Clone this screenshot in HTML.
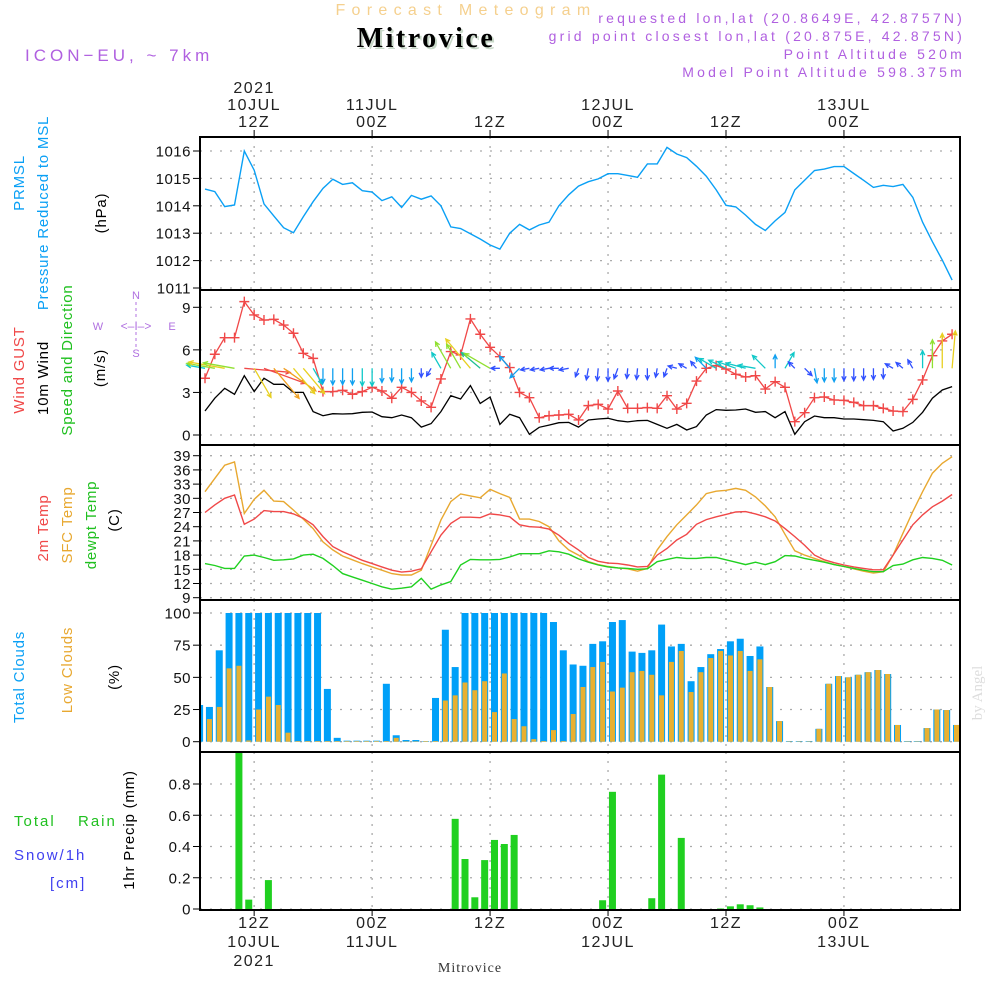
<!DOCTYPE html>
<html><head><meta charset="utf-8"><title>Meteogram Mitrovice</title>
<style>
html,body{margin:0;padding:0;background:#fff;}
svg{display:block;font-family:"Liberation Sans",sans-serif;}
</style></head>
<body>
<svg id="chart" width="1000" height="1000" viewBox="0 0 1000 1000" xmlns="http://www.w3.org/2000/svg">
<rect x="0" y="0" width="1000" height="1000" fill="#fff"/>
<text x="466" y="15" text-anchor="middle" font-size="16" fill="#f5d08e" letter-spacing="6.3">Forecast Meteogram</text>
<text x="428" y="49" text-anchor="middle" font-size="28" font-weight="bold" font-family="Liberation Serif, serif" fill="#c8d8c8" letter-spacing="2.5">Mitrovice</text>
<text x="426" y="47" text-anchor="middle" font-size="28" font-weight="bold" font-family="Liberation Serif, serif" fill="#000" letter-spacing="2.5">Mitrovice</text>
<text x="25" y="61" font-size="17" fill="#b060e0" letter-spacing="4">ICON−EU, ~ 7km</text>
<g font-size="14" fill="#b060e0" text-anchor="end" letter-spacing="3.2">
<text x="965" y="23">requested lon,lat (20.8649E, 42.8757N)</text>
<text x="965" y="41">grid point closest lon,lat (20.875E, 42.875N)</text>
<text x="965" y="59">Point Altitude 520m</text>
<text x="965" y="77">Model Point Altitude 598.375m</text>
</g>
<g id="plot"></g>
</svg>
<script>
// ---- data (hourly, starting 10JUL 07Z) ----
const pressure = [1014.61,1014.52,1013.97,1014.03,1016.0,1015.3,1014.07,1013.63,1013.2,1013.02,1013.6,1014.15,1014.64,1014.97,1014.78,1014.84,1014.55,1014.5,1014.19,1014.33,1013.94,1014.38,1014.24,1014.36,1014.0,1013.23,1013.17,1012.98,1012.79,1012.57,1012.42,1013.0,1013.32,1013.12,1013.3,1013.4,1014.0,1014.4,1014.72,1014.88,1014.98,1015.17,1015.17,1015.11,1015.04,1015.53,1015.53,1016.13,1015.89,1015.76,1015.44,1015.08,1014.58,1014.02,1013.96,1013.66,1013.32,1013.1,1013.45,1013.76,1014.58,1014.93,1015.29,1015.34,1015.43,1015.43,1015.18,1014.93,1014.67,1014.75,1014.7,1014.78,1014.31,1013.4,1012.69,1012.02,1011.29];
const gust = [4.0,5.69,6.86,6.86,9.4,8.46,8.1,8.15,7.75,7.17,5.76,5.4,3.06,3.06,3.15,2.87,3.06,3.36,3.1,2.59,3.36,3.0,2.4,1.95,3.95,5.88,5.64,8.18,7.1,6.18,5.52,4.75,3.0,2.63,1.22,1.36,1.41,1.46,1.06,2.07,2.16,1.83,3.1,1.88,1.88,1.93,1.88,2.77,1.83,2.23,3.8,4.7,4.89,4.65,4.28,4.09,4.18,3.24,3.76,3.36,0.94,1.57,2.63,2.68,2.47,2.44,2.3,2.07,2.07,1.88,1.69,1.65,2.51,3.88,5.59,6.63,7.1];
const wind10m = [1.69,2.59,3.29,2.87,4.18,3.06,4.0,3.57,3.57,3.0,3.0,1.65,1.36,1.5,1.48,1.5,1.6,1.62,1.29,1.22,1.41,1.22,0.56,0.8,1.65,2.77,2.54,3.48,2.23,2.68,0.75,1.46,1.22,0.05,0.54,0.7,0.87,0.89,0.56,1.06,1.13,1.18,1.01,0.92,1.01,1.03,0.75,0.47,0.75,0.35,0.59,1.41,1.79,1.74,1.76,1.83,1.6,1.65,1.22,1.65,0.05,0.94,1.34,1.22,1.22,1.13,1.13,1.08,1.03,0.94,0.28,0.47,0.89,1.6,2.59,3.17,3.41];
const windDir = [280,280,280,280,95,150,110,140,125,140,140,150,180,180,180,180,180,180,180,180,180,180,180,210,330,330,330,320,310,300,270,320,225,260,260,260,270,260,200,190,185,180,200,185,185,180,190,200,285,300,320,315,300,295,290,285,280,315,0,30,315,135,170,180,180,180,180,180,180,180,300,310,330,0,0,0,5];
const temp2m = [27.0,28.6,30.0,30.7,24.5,25.6,27.4,27.2,27.2,26.7,25.8,24.4,21.9,19.8,18.7,17.8,16.9,16.2,15.5,14.8,14.4,14.6,15.1,18.7,22.2,24.7,26.0,26.0,25.9,26.7,26.5,26.1,24.4,24.0,23.9,23.5,22.2,20.5,19.1,17.5,16.7,16.3,16.2,15.9,15.5,15.6,18.0,19.4,21.2,22.4,24.5,25.5,26.1,26.6,27.1,27.2,26.7,26.1,25.2,23.6,21.9,20.1,18.0,17.0,16.4,15.9,15.5,15.2,14.9,14.9,18.0,21.2,24.4,26.5,28.2,29.4,30.8];
const tempSfc = [31.4,34.2,37.0,37.7,26.8,29.8,31.7,29.4,29.3,27.5,25.6,23.6,20.8,19.1,17.8,17.0,16.2,15.5,14.8,14.1,13.8,13.8,14.8,20.1,25.4,29.3,30.9,30.5,30.1,31.9,31.0,30.2,25.6,25.6,25.1,24.0,21.0,19.1,18.0,16.6,16.0,15.6,15.3,15.1,14.6,15.2,19.1,21.9,24.4,26.5,28.6,31.0,31.5,31.7,32.1,31.7,30.3,28.4,26.1,22.4,18.9,18.0,17.3,16.6,16.0,15.6,15.1,14.6,14.2,14.5,18.0,22.6,27.2,31.4,35.3,37.4,38.8];
const dewpt = [16.2,15.8,15.2,15.2,17.8,18.0,17.5,16.9,17.0,17.2,18.0,18.2,17.3,15.8,14.1,13.4,12.7,12.0,11.3,10.8,11.0,11.3,13.1,10.8,11.7,12.4,15.9,17.1,17.0,17.0,17.1,17.6,18.3,18.3,18.3,18.9,18.7,18.2,17.2,16.5,15.9,15.5,15.3,15.2,15.0,15.1,16.6,17.1,17.5,17.3,17.3,17.5,17.5,17.0,16.5,16.0,16.5,16.0,16.6,17.9,17.8,17.3,16.9,16.5,16.0,15.6,15.2,14.8,14.5,14.5,15.8,16.1,17.0,17.5,17.3,16.9,15.9];
const totalCloud = [28.5,27,71,100,100,100,100,100,100,100,100,100,100,41,3,0.8,0.8,0.8,0.8,45,5,1.3,1.3,0.5,34,87,58,100,100,100,100,100,100,100,100,100,93,71,60,59,76,78,93,94.5,70,69,71,91,74,76,47,58,68,72,78,80,66.6,74,42.5,16,0.5,0.5,0.5,10,45,51,50,52,54,55.7,52.6,13,0.5,0.5,10.6,25,24.6,13];
const lowCloud = [0,17.6,27,57,59,1,25,35,28.5,7,0.5,0.5,0.5,0.5,0.5,0.5,0.5,0.5,0.5,0.5,3,0.3,0.3,0.5,0.5,32,36,46,40,47,23,53,17.6,12,2,0.5,9,0.5,21.5,42.5,58,62,39,42,54,55,52,36,62,70.5,38.6,54,65,70.5,67,70.5,55,64,42.5,16,0.3,0.3,0.3,10,45,51,50,52,54,55.7,52.6,13,0.3,0.3,10.6,25,24.6,13];
const precip = [0,0,0,0,1.0,0.06,0,0.185,0,0,0,0,0,0,0,0,0,0,0,0,0,0,0,0,0,0,0.577,0.32,0.075,0.313,0.442,0.416,0.474,0,0,0,0,0,0,0,0,0.056,0.75,0,0,0,0.069,0.86,0,0.455,0,0,0,0.003,0.017,0.03,0.024,0.01,0,0,0,0,0,0,0,0,0,0,0,0,0,0,0,0,0,0,0,0];
const pressureTicks = [1011,1012,1013,1014,1015,1016];
const windTicks = [0,3,6,9];
const tempTicks = [9,12,15,18,21,24,27,30,33,36,39];
const cloudTicks = [0,25,50,75,100];
const precipTicks = [0,0.2,0.4,0.6,0.8];
const timeTickHours = [5,17,29,41,53,65];
const timeTopLabels = [["2021","10JUL","12Z"],["11JUL","00Z"],["12Z"],["12JUL","00Z"],["12Z"],["13JUL","00Z"]];
const timeBottomLabels = [["12Z","10JUL","2021"],["00Z","11JUL"],["12Z"],["00Z","12JUL"],["12Z"],["00Z","13JUL"]];

// ---- scales ----
const X0=200, X1=960;
function xs(i){return 205+9.83*i;}
function yP(v){return 151+(1016-v)*27.4;}
function yW(v){return 435-v*14.19;}
function yT(v){return 597.7-(v-9)*4.733;}
function yC(v){return 741.7-v*1.287;}
function yR(v){return 909-v*156.25;}
const NS="http://www.w3.org/2000/svg";
const plot=document.getElementById('plot');
function mk(tag,attrs,parent){const e=document.createElementNS(NS,tag);for(const k in attrs)e.setAttribute(k,attrs[k]);(parent||plot).appendChild(e);return e;}
function txt(s,attrs,parent){const e=mk('text',attrs,parent);e.textContent=s;return e;}

const panels=[{top:137,bot:290,y:yP,ticks:pressureTicks,name:'pressure'},{top:290,bot:445,y:yW,ticks:windTicks,name:'wind'},{top:445,bot:600,y:yT,ticks:tempTicks,name:'temperature'},{top:600,bot:752,y:yC,ticks:cloudTicks,name:'clouds'},{top:752,bot:910,y:yR,ticks:precipTicks,name:'precip'}];

panels.forEach(p=>{
  const g=mk('g',{});
  
  
  p.ticks.forEach(t=>{
    const yy=p.y(t);
    const l=mk('line',{x1:X0,x2:X1,y1:yy,y2:yy,stroke:'#aaa','stroke-width':1.3,'stroke-dasharray':'2,8'},g);
    
    
    const tk=mk('line',{x1:193,x2:200,y1:yy,y2:yy,stroke:'#000','stroke-width':1},g);
    
    
    const lab=txt(String(t),{x:191,y:yy+5.5,'text-anchor':'end','font-size':15,fill:'#111','letter-spacing':0.5},g);
    
    
  });
  timeTickHours.forEach(h=>{
    const xx=xs(h);
    const l=mk('line',{x1:xx,x2:xx,y1:p.top,y2:p.bot,stroke:'#aaa','stroke-width':1.3,'stroke-dasharray':'2,7'},g);
    
    
  });
});

timeTickHours.forEach((h,k)=>{
  const xx=xs(h);
  const top=timeTopLabels[k];
  top.forEach((s,j)=>{
    const t=txt(s,{x:xx,y:127-(top.length-1-j)*17,'text-anchor':'middle','font-size':16,fill:'#222','letter-spacing':1.5});
    
    
  });
  timeBottomLabels[k].forEach((s,j)=>{
    const t=txt(s,{x:xx,y:928+j*19,'text-anchor':'middle','font-size':16,fill:'#222','letter-spacing':1.5});
    
    
  });
  const tk=mk('line',{x1:xx,x2:xx,y1:130,y2:137,stroke:'#000'});
  
  
  const tb=mk('line',{x1:xx,x2:xx,y1:910,y2:916,stroke:'#000'});
  
  
});

function pathOf(arr,yf){return arr.map((v,i)=>(i?'L':'M')+xs(i).toFixed(1)+','+yf(v).toFixed(1)).join('');}

const pl=mk('path',{d:pathOf(pressure,yP),fill:'none',stroke:'#0aa0f5','stroke-width':1.4});



const wl=mk('path',{d:pathOf(wind10m,yW),fill:'none',stroke:'#000','stroke-width':1.3});


const gl=mk('path',{d:pathOf(gust,yW),fill:'none',stroke:'#f04848','stroke-width':1.3});


gust.forEach((v,i)=>{
  const x=xs(i),y=yW(v);
  const m=mk('path',{d:`M${x-5},${y}L${x+5},${y}M${x},${y-5}L${x},${y+5}`,stroke:'#f04848','stroke-width':1.4});
  
  
});
function windColor(s){
  if(s<0.8)return '#8a2be2';if(s<1.2)return '#3050ff';if(s<1.6)return '#10a0f0';if(s<2.0)return '#10c8c8';
  if(s<2.5)return '#20c090';if(s<3.0)return '#90e030';if(s<3.5)return '#e8d020';if(s<4.0)return '#f0a020';return '#f04848';}
windDir.forEach((d,i)=>{
  const s=Math.max(wind10m[i],0.8);
  const len=Math.min(Math.max(s*11,9),48);
  const a=d*Math.PI/180;
  const x0=xs(i),y0=yW(4.7);
  const x1=x0+len*Math.sin(a),y1=y0-len*Math.cos(a);
  const h=5,b1=a+Math.PI-0.45,b2=a+Math.PI+0.45;
  const dd=`M${x0},${y0}L${x1},${y1}M${x1+h*Math.sin(b1)},${y1-h*Math.cos(b1)}L${x1},${y1}L${x1+h*Math.sin(b2)},${y1-h*Math.cos(b2)}`;
  const ar=mk('path',{d:dd,fill:'none',stroke:windColor(s),'stroke-width':1.3});
  
  
});

[[tempSfc,'#e8a830','sfc-temp-line'],[temp2m,'#f04848','temp-2m-line'],[dewpt,'#20d020','dewpoint-line']].forEach(([arr,c,n])=>{
  const l=mk('path',{d:pathOf(arr,yT),fill:'none',stroke:c,'stroke-width':1.4});
  
  
});

function bx(j){return xs(j-0.55);}
totalCloud.forEach((v,j)=>{
  const x=bx(j);
  const b=mk('rect',{x:Math.max(x-3.5,X0),y:yC(v),width:7-(Math.max(x-3.5,X0)-(x-3.5)),height:yC(0)-yC(v),fill:'#00a0f8'});
  
  
});
lowCloud.forEach((v,j)=>{
  const x=bx(j);
  if(x-2.5<X0)return;
  const b=mk('rect',{x:x-2.5,y:yC(v),width:5,height:yC(0)-yC(v),fill:'#e8b030'});
  
  
});

precip.forEach((v,j)=>{
  if(v<=0)return;
  const x=bx(j);
  const top=Math.max(yR(v),753);
  const b=mk('rect',{x:x-3.5,y:top,width:7,height:yR(0)-top,fill:'#20d020'});
  
  
});

panels.forEach(p=>{
  const r=mk('rect',{x:X0,y:p.top,width:X1-X0,height:p.bot-p.top,fill:'none',stroke:'#000','stroke-width':2});
  
  
});
</script>
<div style="position:absolute;left:0;top:0;width:1000px;height:1000px;pointer-events:none;">
<svg width="1000" height="1000" style="position:absolute;left:0;top:0;font-family:'Liberation Sans',sans-serif;">
<g font-size="15" letter-spacing="0.8">
<text transform="translate(24,183) rotate(-90)" text-anchor="middle" fill="#0aa0f5">PRMSL</text>
<text transform="translate(48,213) rotate(-90)" text-anchor="middle" fill="#0aa0f5">Pressure Reduced to MSL</text>
<text transform="translate(106,213) rotate(-90)" text-anchor="middle" fill="#000">(hPa)</text>
<text transform="translate(24,370) rotate(-90)" text-anchor="middle" fill="#f04848">Wind GUST</text>
<text transform="translate(48,378) rotate(-90)" text-anchor="middle" fill="#000">10m Wind</text>
<text transform="translate(72,360) rotate(-90)" text-anchor="middle" fill="#20c020">Speed and Direction</text>
<text transform="translate(105,368) rotate(-90)" text-anchor="middle" fill="#000">(m/s)</text>
<text transform="translate(48,528) rotate(-90)" text-anchor="middle" fill="#f04848">2m Temp</text>
<text transform="translate(72,525) rotate(-90)" text-anchor="middle" fill="#e8a830">SFC Temp</text>
<text transform="translate(96,525) rotate(-90)" text-anchor="middle" fill="#20c020">dewpt Temp</text>
<text transform="translate(119,520) rotate(-90)" text-anchor="middle" fill="#000">(C)</text>
<text transform="translate(24,677) rotate(-90)" text-anchor="middle" fill="#0aa0f5">Total Clouds</text>
<text transform="translate(72,670) rotate(-90)" text-anchor="middle" fill="#e8a830">Low Clouds</text>
<text transform="translate(119,677) rotate(-90)" text-anchor="middle" fill="#000">(%)</text>
<text transform="translate(134,830) rotate(-90)" text-anchor="middle" fill="#000">1hr Precip (mm)</text>
<text x="14" y="826" fill="#20c020" letter-spacing="2">Total</text>
<text x="78" y="826" fill="#20c020" letter-spacing="2">Rain</text>
<text x="14" y="860" fill="#4040f0" letter-spacing="2">Snow/1h</text>
<text x="50" y="888" fill="#4040f0" letter-spacing="2">[cm]</text>
</g>
<g font-size="11" fill="#b070e0" stroke="none">
<text x="136" y="299" text-anchor="middle">N</text>
<text x="136" y="357" text-anchor="middle">S</text>
<text x="98" y="330" text-anchor="middle">W</text>
<text x="172" y="330" text-anchor="middle">E</text>
<text x="136" y="330" text-anchor="middle" font-size="12">&lt;–I–&gt;</text>
<line x1="136" y1="302" x2="136" y2="320" stroke="#b070e0" stroke-dasharray="3,3"/>
<line x1="136" y1="332" x2="136" y2="348" stroke="#b070e0" stroke-dasharray="3,3"/>
</g>
<text x="470" y="972" text-anchor="middle" font-size="14" font-family="Liberation Serif, serif" fill="#333" letter-spacing="1">Mitrovice</text>
<text transform="translate(982,693) rotate(-90)" text-anchor="middle" font-size="15" font-family="Liberation Serif, serif" fill="#ddd">by Angel</text>
</svg>
</div>
</body></html>
